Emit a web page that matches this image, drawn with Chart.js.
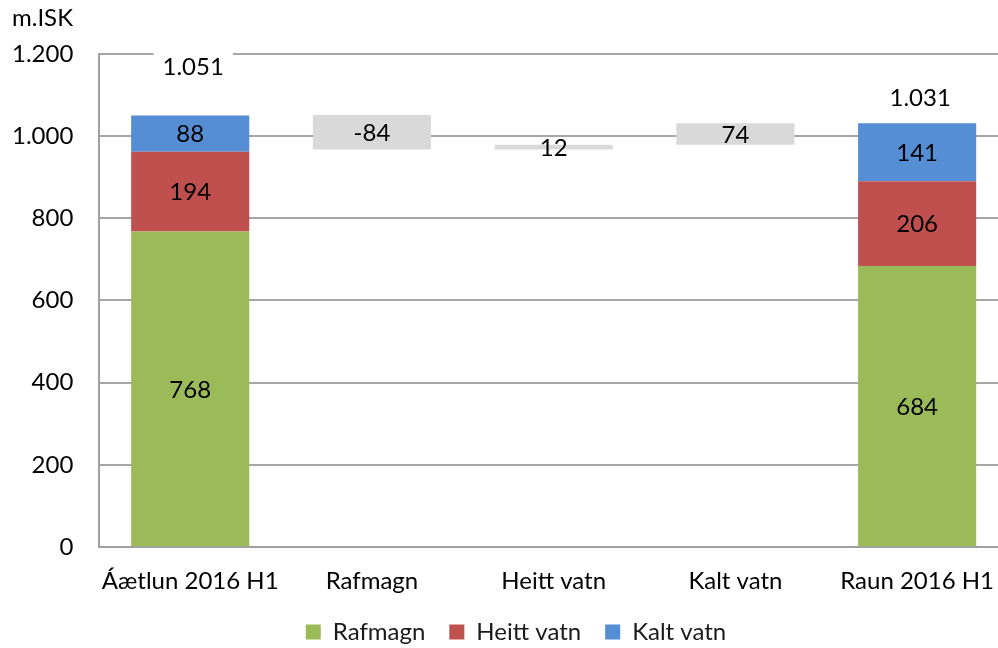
<!DOCTYPE html>
<html>
<head>
<meta charset="utf-8">
<script src="https://cdn.jsdelivr.net/npm/chart.js@4"></script>
<style>
  html, body { margin: 0; padding: 0; background: #fff; overflow: hidden; }
  #wrap { width: 1044px; height: 648px; }
</style>
</head>
<body>
<div id="wrap"><canvas id="chart"></canvas></div>
<script>
/* ---------- DATA ---------- */
const categories = ['Áætlun 2016 H1', 'Rafmagn', 'Heitt vatn', 'Kalt vatn', 'Raun 2016 H1'];
const rafmagn = [768, null, null, null, 684];
const heittVatn = [194, null, null, null, 206];
const kaltVatn = [88, null, null, null, 141];
// floating change bars (start / end) and the labels printed on them
const bridgeFrom = [null, 967, 967, 979, null];
const bridgeTo = [null, 1051, 979, 1031, null];
const bridgeLabels = [null, -84, 12, 74, null];
const totals = [1051, null, null, null, 1031];
const yTicks = [0, 200, 400, 600, 800, 1000, 1200];

const FONT = 'Lato, sans-serif';
const SIZE = 24;
const fmt = v => Number(v).toLocaleString('de-DE');

/* ---------- LABEL PLUGIN ---------- */
const valueLabels = {
  id: 'valueLabels',
  afterLayout(chart, args, opts) {
    // nudge legend and title to where the original ones sit
    const lg = chart.legend;
    if (lg) { lg.left += opts.legendShift; lg.right += opts.legendShift; }
    const tb = chart.titleBlock;
    if (tb) { tb.left += opts.titleShift; tb.right += opts.titleShift; }
  },
  afterDatasetsDraw(chart, args, opts) {
    const ctx = chart.ctx;
    ctx.save();
    ctx.font = `${SIZE}px ${FONT}`;
    ctx.fillStyle = '#000';
    ctx.textAlign = 'center';
    ctx.textBaseline = 'middle';

    chart.data.datasets.forEach((ds, di) => {
      const meta = chart.getDatasetMeta(di);
      meta.data.forEach((bar, i) => {
        const raw = ds.data[i];
        if (raw === null || raw === undefined) return;
        const c = bar.getCenterPoint();
        const text = ds.isBridge ? String(bridgeLabels[i]) : fmt(raw);
        ctx.fillText(text, c.x, c.y + 1);
      });
    });

    // totals above the stacked bars, with a white box behind
    const y = chart.scales.y;
    const meta0 = chart.getDatasetMeta(0);
    totals.forEach((t, i) => {
      if (t === null) return;
      const x = meta0.data[i].x + 3;
      const py = y.getPixelForValue(t) - opts.totalOffsets[i];
      const text = fmt(t);
      const w = ctx.measureText(text).width + 18;
      ctx.fillStyle = '#fff';
      ctx.fillRect(x - w / 2, py - 14, w, 28);
      ctx.fillStyle = '#000';
      ctx.fillText(text, x, py + 1);
    });
    ctx.restore();
  }
};

/* ---------- CHART ---------- */
new Chart(document.getElementById('chart'), {
  type: 'bar',
  data: {
    labels: categories,
    datasets: [
      { label: 'Rafmagn', data: rafmagn, backgroundColor: '#9BBB59' },
      { label: 'Heitt vatn', data: heittVatn, backgroundColor: '#C0504D' },
      { label: 'Kalt vatn', data: kaltVatn, backgroundColor: '#558ED5' },
      {
        label: 'Breyting',
        isBridge: true,
        data: bridgeFrom.map((f, i) => (f === null ? null : [f, bridgeTo[i]])),
        backgroundColor: '#D9D9D9'
      }
    ]
  },
  options: {
    responsive: true,
    maintainAspectRatio: false,
    animation: false,
    datasets: { bar: { barPercentage: 0.65, categoryPercentage: 1 } },
    layout: { padding: { left: -14, right: 36, top: 2, bottom: -6 } },
    plugins: {
      title: {
        display: true,
        text: 'm.ISK',
        align: 'start',
        color: '#000',
        font: { family: FONT, size: SIZE, weight: 'normal' },
        padding: { top: 2, bottom: 21 }
      },
      legend: {
        position: 'bottom',
        labels: {
          filter: item => item.text !== 'Breyting',
          boxWidth: 15,
          boxHeight: 15,
          padding: 24,
          color: '#1a1a1a',
          font: { family: FONT, size: SIZE }
        }
      },
      tooltip: { enabled: false },
      valueLabels: {
        totalOffsets: [49, null, null, null, 26],
        legendShift: 19,
        titleShift: 26
      }
    },
    scales: {
      x: {
        stacked: true,
        afterFit: scale => { scale.height -= 20; },
        grid: { display: false, drawTicks: false },
        border: { color: '#A0A0A0', width: 2 },
        ticks: {
          color: '#000',
          padding: 20,
          maxRotation: 0,
          minRotation: 0,
          autoSkip: false,
          font: { family: FONT, size: SIZE }
        }
      },
      y: {
        stacked: true,
        min: 0,
        max: 1200,
        afterBuildTicks: axis => { axis.ticks = yTicks.map(v => ({ value: v })); },
        grid: { color: '#A6A6A6', lineWidth: 2, drawTicks: false },
        border: { color: '#A0A0A0', width: 2 },
        ticks: {
          color: '#000',
          padding: 26,
          font: { family: FONT, size: SIZE },
          callback: v => fmt(v)
        }
      }
    }
  },
  plugins: [valueLabels]
});
</script>
</body>
</html>
